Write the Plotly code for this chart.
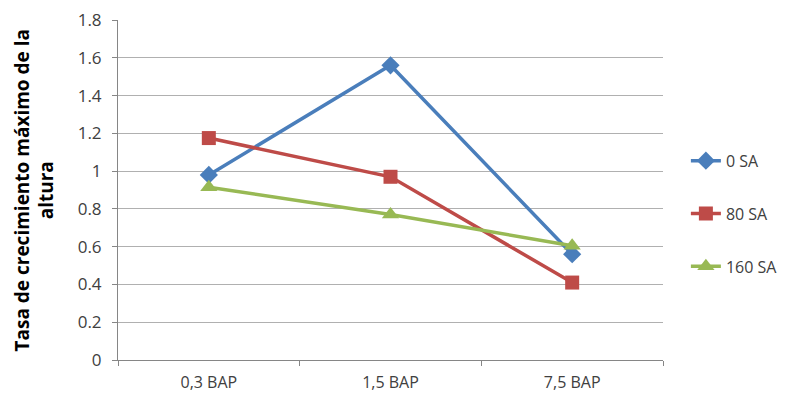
import plotly.graph_objects as go

categories = ["0,3 BAP", "1,5 BAP", "7,5 BAP"]
series_names = ["0 SA", "80 SA", "160 SA"]
sa0 = [0.98, 1.56, 0.56]
sa80 = [1.175, 0.97, 0.41]
sa160 = [0.915, 0.77, 0.605]
y_ticks = [0, 0.2, 0.4, 0.6, 0.8, 1, 1.2, 1.4, 1.6, 1.8]
y_title = "Tasa de crecimiento máximo de la<br>altura"

colors = ["#4A7EBB", "#BE4B48", "#98B954"]
symbols = ["diamond", "square", "triangle-up"]
sizes = [14, 14, 15]

fig = go.Figure()
for i, (name, vals) in enumerate(zip(series_names, [sa0, sa80, sa160])):
    fig.add_trace(go.Scatter(
        x=categories, y=vals, name=name, mode="lines+markers",
        line=dict(color=colors[i], width=3.5),
        marker=dict(symbol=symbols[i], size=sizes[i], color=colors[i]),
        legendgroup=name,
    ))

font = "Open Sans, Liberation Sans, sans-serif"
fig.update_layout(
    width=778, height=388,
    margin=dict(l=110, r=123, t=12, b=36, autoexpand=False),
    plot_bgcolor="white", paper_bgcolor="white",
    font=dict(family=font, size=15, color="#404040"),
    showlegend=True,
    legend=dict(x=1.042, y=0.43, xanchor="left", yanchor="middle",
                tracegroupgap=29, font=dict(size=16, color="#404040")),
    xaxis=dict(
        type="category", range=[-0.5, 2.5],
        tickson="boundaries", ticks="outside", ticklen=5, tickcolor="#868686",
        showline=True, linecolor="#868686", linewidth=1,
        showgrid=False, tickfont=dict(size=16), automargin=False,
        ticklabelstandoff=8,
    ),
    yaxis=dict(
        range=[0, 1.8], tickvals=y_ticks,
        ticktext=[("%g" % v) for v in y_ticks],
        showgrid=True, gridcolor="#B0B0B0", gridwidth=1,
        showline=True, linecolor="#868686", linewidth=1,
        ticks="outside", ticklen=5, tickcolor="#868686",
        zeroline=False, tickfont=dict(size=17), automargin=False,
        ticklabelstandoff=7, ticklabeloverflow="allow",
    ),
    annotations=[dict(
        text="<b>" + y_title + "</b>", textangle=-90,
        xref="paper", yref="paper", x=-0.155, y=0.5,
        xanchor="center", yanchor="middle", showarrow=False,
        font=dict(size=19, color="black", family=font),
    )],
)
fig.write_html("out.html")
